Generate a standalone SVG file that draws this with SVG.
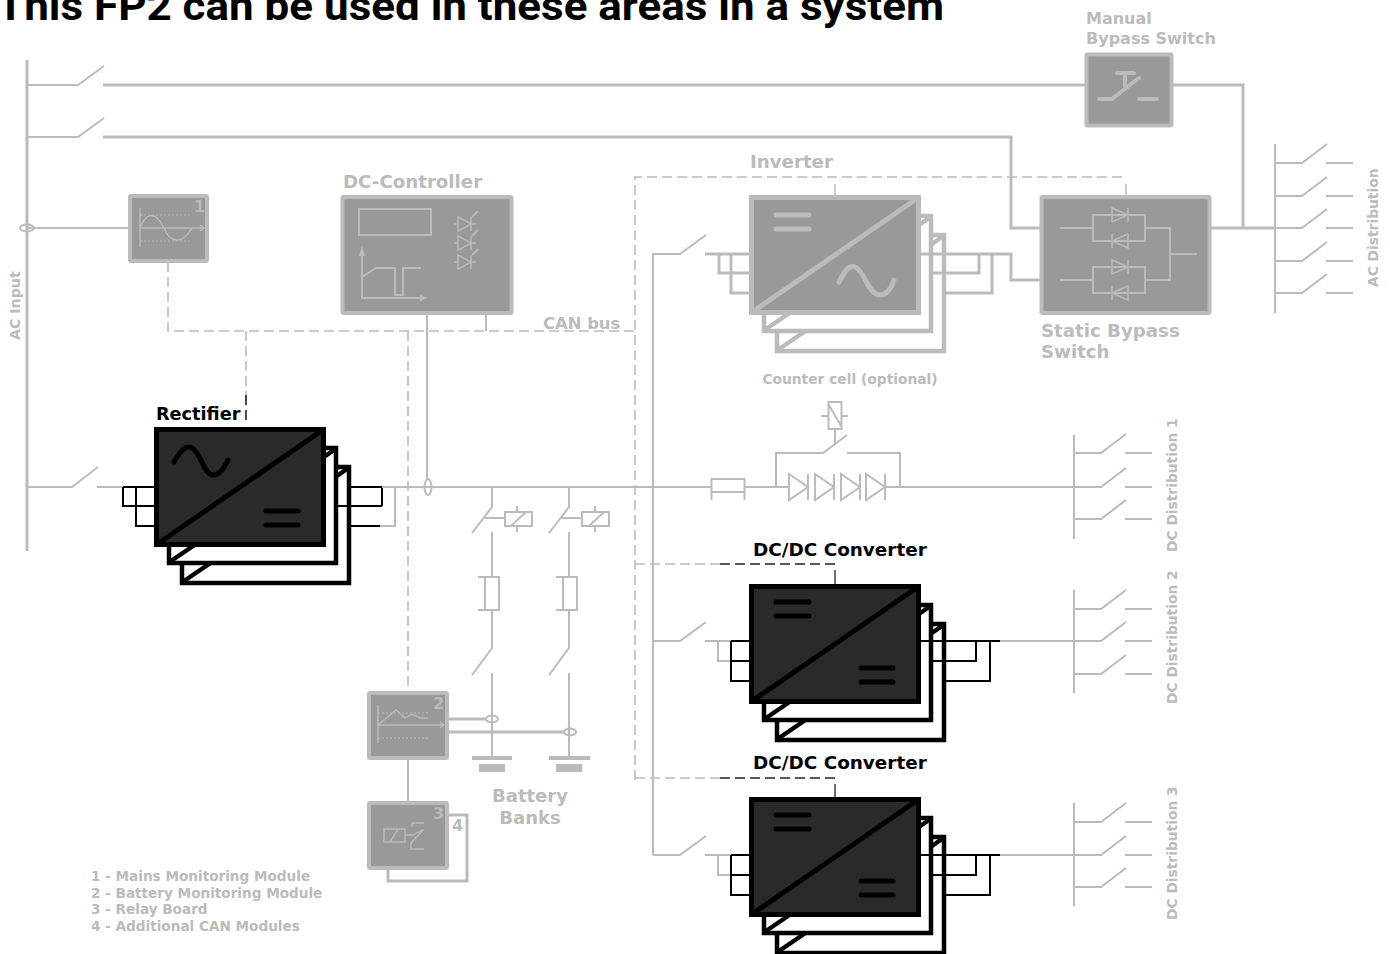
<svg xmlns="http://www.w3.org/2000/svg" width="1390" height="954" viewBox="0 0 1390 954">
<style>
text{font-family:"DejaVu Sans",sans-serif;font-weight:700;fill:#bbb}
.title{font-family:Roboto,"Liberation Sans",sans-serif;font-size:40px;fill:#000}
.blk{fill:#000;font-size:18.400px}
.lbl{font-size:18.200px}
.man{font-size:16px}
.leg{font-size:13.600px}
.vert{font-size:13.800px}
.dig{font-size:16px}
.l{fill:none;stroke:#bbb;stroke-width:2}
.t{fill:none;stroke:#bbb;stroke-width:3}
.b{fill:none;stroke:#000;stroke-width:2}
.d{fill:none;stroke:#bbb;stroke-width:1.6;stroke-dasharray:10 5}
.dk{fill:none;stroke:#222;stroke-width:1.6;stroke-dasharray:10 5}
.thin{fill:none;stroke:#bbb;stroke-width:1.4}
.dot{fill:none;stroke:#bbb;stroke-width:1.2;stroke-dasharray:2 2}
.mod{fill:#999;stroke:#bbb;stroke-width:4}
.cb{fill:#2a2a2a;stroke:#000}
.cg{fill:#999;stroke:#bbb}
</style>
<defs>
<g id="stack" stroke-width="4.500">
<rect x="28" y="40" width="167" height="116" fill="#fff"/><path d="M30 154L80 120" fill="none"/>
<path d="M193 42L180 51" fill="none"/>
<rect x="15" y="21" width="167" height="115" fill="#fff"/><path d="M17 134L67 100" fill="none"/>
<path d="M180 23L167 32" fill="none"/>
<rect x="2.500" y="2.500" width="167" height="115" stroke-width="5"/>
<path d="M2.500 117.500L169.500 2.500" fill="none" stroke-width="5"/>
</g>
<g id="eqA" fill="none" stroke-width="5" stroke-linecap="round"><path d="M27 20H60M27 34H60"/></g>
<g id="eqB" fill="none" stroke-width="5" stroke-linecap="round"><path d="M112 84H144M112 98H144"/></g>
<path id="acA" d="M20 35C27 22 33 18 38 21C47 26 50 48 59 48C65 48 70 42 74 33" fill="none" stroke-width="5" stroke-linecap="round"/>
<path id="acB" d="M90 87C97 74 100 70 106 72C116 76 119 100 131 100C137 100 142 94 145 85" fill="none" stroke-width="5" stroke-linecap="round"/>
<g id="sw" class="l"><path d="M0 0H27L52 -19M51 0H78"/></g>
<g id="led" class="thin"><path d="M-9 0H-5M9 0H13M-5 -7V7L8 0ZM8 -7V7"/><path d="M9 -7L15 -13" stroke-width="2"/></g>
<g id="thy" class="thin"><path d="M-8 -7L8 0L-8 7ZM8 -7V7M-8 -7V7"/></g>
<g id="thyr" class="thin"><path d="M8 -7L-8 0L8 7ZM-8 -7V7M8 -7V7"/></g>
<g id="diode" class="l"><path d="M0 -13L19 0L0 13ZM19 -13V13"/></g>
</defs>

<text class="title" x="-3" y="20" textLength="947" lengthAdjust="spacingAndGlyphs">This FP2 can be used in these areas in a system</text>

<g id="mains-module">
<rect class="mod" x="130" y="196" width="77" height="65" rx="1"/>
<path class="thin" d="M140 208V247M140 228H204M200 225L204 228L200 231"/>
<path class="dot" d="M140 215H192M140 241H192"/>
<path class="thin" d="M140 228C146 212 156 211 164 228C170 243 182 245 192 228"/>
<text class="dig" x="194" y="212">1</text>
</g>
<g id="dc-controller">
<rect class="mod" x="342.500" y="197" width="169" height="116" rx="1"/>
<rect class="l" x="359" y="209" width="72" height="26"/>
<use href="#led" x="463" y="224"/><use href="#led" x="463" y="243"/><use href="#led" x="463" y="262"/>
<path class="l" d="M362 250V298H424M362 277L376 268H395V295H403V268H421"/>
<path d="M362 246L359 256H365ZM428 298L420 295V301Z" fill="#bbb"/>
<text class="lbl" x="343" y="188">DC-Controller</text>
</g>
<g id="manual-bypass">
<rect class="mod" x="1086.500" y="54.500" width="85" height="71" rx="1"/>
<path d="M1117 73H1134M1125 73V86M1099 99H1112L1139 78M1139 99H1157" fill="none" stroke="#bbb" stroke-width="4" stroke-linecap="round"/>
<text class="man" x="1086" y="24">Manual</text>
<text class="man" x="1086" y="44">Bypass Switch</text>
</g>
<g id="inverter">
<use href="#stack" class="cg" x="749" y="195"/>
<use href="#eqA" x="749" y="195" stroke="#bbb"/>
<use href="#acB" x="749" y="195" stroke="#bbb"/>
<text class="lbl" x="750" y="168">Inverter</text>
</g>
<g id="static-bypass">
<rect class="mod" x="1041.500" y="197" width="168" height="116" rx="1"/>
<path class="l" d="M1060 228H1093M1093 215H1145V241H1093ZM1060 280H1093M1093 267H1145V293H1093ZM1145 228H1170V280H1145M1170 254H1197"/>
<use href="#thy" x="1120" y="215"/><use href="#thyr" x="1120" y="241"/>
<use href="#thy" x="1120" y="267"/><use href="#thyr" x="1120" y="293"/>
<text class="lbl" x="1041" y="337">Static Bypass</text>
<text class="lbl" x="1041" y="358">Switch</text>
</g>
<g id="rectifier">
<use href="#stack" class="cb" x="154" y="427"/>
<use href="#acA" x="154" y="427" stroke="#000"/>
<use href="#eqB" x="154" y="427" stroke="#000"/>
<text class="blk" x="156" y="420" style="font-size:17.700px">Rectifier</text>
</g>
<g id="dcdc-1">
<use href="#stack" class="cb" x="749" y="584"/>
<use href="#eqA" x="749" y="582" stroke="#000"/>
<use href="#eqB" x="749" y="584" stroke="#000"/>
<text class="blk" x="753" y="556">DC/DC Converter</text>
</g>
<g id="dcdc-2">
<use href="#stack" class="cb" x="749" y="797"/>
<use href="#eqA" x="749" y="795" stroke="#000"/>
<use href="#eqB" x="749" y="797" stroke="#000"/>
<text class="blk" x="753" y="769">DC/DC Converter</text>
</g>
<g id="battery-module">
<rect class="mod" x="369" y="693" width="78" height="65" rx="1"/>
<path class="thin" d="M378 705V743M378 725H444M440 722L444 725L440 728M378 725L396 710L405 718L412 714L420 718H428"/>
<path class="dot" d="M378 713H430M378 738H430"/>
<text class="dig" x="433" y="709">2</text>
</g>
<g id="relay-board">
<path class="t" d="M388 869V881H467V815H447"/>
<rect class="mod" x="369" y="803" width="78" height="65" rx="1"/>
<path class="thin" d="M384 829H405V842H384ZM390 842L398 829M405 835H413L424 829M412 823H424M424 829L411 843V849H424M412 823V827"/>
<text class="dig" x="433" y="819">3</text>
<text class="dig" x="452" y="831">4</text>
</g>
<g id="counter-cell">
<rect class="l" x="828.500" y="402" width="13" height="27"/>
<path class="l" d="M821 416H828M842 416H848M829 405L841 426M835 429V445M776 487V453H823L847 435M847 453H900V487"/>
<use href="#diode" x="789" y="487"/><use href="#diode" x="815" y="487"/><use href="#diode" x="841" y="487"/><use href="#diode" x="866" y="487"/>
<path class="l" d="M711.500 500V479H744.500V500M711.500 492H744.500"/>
<text x="850" y="384" text-anchor="middle" style="font-size:13.800px">Counter cell (optional)</text>
</g>
<g id="battery-banks">
<path class="l" d="M492 487V507L472 533M484 518H505M492 532V577M492 610V648L472 675M492 673V758"/>
<path class="l" d="M569 487V507L549 533M561 518H582M569 532V577M569 610V648L549 675M569 673V758"/>
<rect class="l" x="505" y="512" width="27" height="14"/><path class="l" d="M517 506V512M517 526V532M511 526L526 512"/>
<rect class="l" x="582" y="512" width="27" height="14"/><path class="l" d="M595 506V512M595 526V532M589 526L604 512"/>
<path class="l" d="M478 577H499V610H478M485 577V610"/>
<path class="l" d="M556 577H577V610H556M563 577V610"/>
<path d="M472 758H512M549 758H590" stroke="#bbb" stroke-width="4" fill="none"/>
<path d="M479 768H505M556 768H582" stroke="#bbb" stroke-width="8" fill="none"/>
<text x="530" y="802" text-anchor="middle" style="font-size:18px">Battery</text>
<text x="530" y="824" text-anchor="middle" style="font-size:18px">Banks</text>
</g>
<g id="ac-distribution">
<path class="l" d="M1275 144V313"/>
<use href="#sw" x="1275" y="163"/><use href="#sw" x="1275" y="196"/><use href="#sw" x="1275" y="228"/><use href="#sw" x="1275" y="261"/><use href="#sw" x="1275" y="293"/>
<text class="vert" transform="translate(1378 287) rotate(-90)">AC Distribution</text>
</g>
<g id="dc-distribution-1">
<path class="l" d="M1074 435V539"/>
<use href="#sw" x="1074" y="453"/><use href="#sw" x="1074" y="487"/><use href="#sw" x="1074" y="519"/>
<text class="vert" transform="translate(1177 552) rotate(-90)">DC Distribution 1</text>
</g>
<g id="dc-distribution-2">
<path class="l" d="M1074 590V693"/>
<use href="#sw" x="1074" y="609"/><use href="#sw" x="1074" y="641"/><use href="#sw" x="1074" y="674"/>
<text class="vert" transform="translate(1177 704) rotate(-90)">DC Distribution 2</text>
</g>
<g id="dc-distribution-3">
<path class="l" d="M1074 803V906"/>
<use href="#sw" x="1074" y="822"/><use href="#sw" x="1074" y="855"/><use href="#sw" x="1074" y="887"/>
<text class="vert" transform="translate(1177 920) rotate(-90)">DC Distribution 3</text>
</g>

<g id="connectors">
<path class="t" d="M27 60V551"/>
<path class="l" d="M27 85H78L104 66"/><path class="t" d="M103 85H1086"/>
<path class="l" d="M27 137H78L104 118"/><path class="t" d="M103 137H1011V228H1041"/>
<path class="t" d="M1172 85H1243V228M1210 228H1275"/>
<ellipse class="l" cx="27" cy="228" rx="7" ry="3.500"/>
<path class="l" d="M27 228H130"/>
<path class="l" d="M27 487H72L98 467M97 487H155"/>
<path class="l" d="M395 487H711M745 487H789M886 487H1074"/>
<path class="l" d="M427 315V479"/><ellipse class="l" cx="428" cy="487" rx="3.500" ry="8"/>
<path class="l" d="M486 315V331"/>
<path class="d" d="M168 262V331H635M408 331V692"/>
<path class="d" d="M246 331V400"/><path class="dk" d="M246 395V424"/>
<path class="d" d="M635 780V177H1126"/>
<path class="thin" d="M835 184V195M1126 184V195"/>
<path class="d" d="M635 564H720"/><path class="dk" d="M720 564H835"/><path class="thin" d="M835 570V584" style="stroke:#333"/>
<path class="d" d="M635 778H720"/><path class="dk" d="M720 778H835"/><path class="thin" d="M835 784V797" style="stroke:#333"/>
<path class="l" d="M408 759V803"/>
<path class="t" d="M448 719H486M448 732H564"/><ellipse class="l" cx="492" cy="719" rx="6" ry="3.500"/><ellipse class="l" cx="570" cy="732" rx="6" ry="3.500"/>
<path class="l" d="M653 855V254H680L706 235"/>
<path class="t" d="M705 254H749M719 254V273H749M731 254V293H749"/>
<path class="t" d="M920 254H1011V280H1041M933 273H979V254M946 293H992V254"/>
<path class="l" d="M653 641H680L706 622M705 641H731"/><path class="l" d="M653 855H680L706 836M705 855H731"/>
<path class="l" d="M1000 641H1074M1000 855H1074"/>
<path class="l" d="M718 641V661H731"/><path class="l" d="M718 855V875H731"/>
<path class="b" d="M731 641H749M731 641V681H749M731 661H749M920 641H1000M933 661H976V641M946 681H990V641"/>
<path class="b" d="M731 855H749M731 855V895H749M731 875H749M920 855H1000M933 875H976V855M946 895H990V855"/>
<path class="b" d="M123 487H155M136 487V526H155M123 487V506H155M351 487H382V506M338 506H382"/>
<path class="l" d="M351 526H395V487M382 487H395"/><path class="b" d="M351 526H380"/>
</g>

<text x="543" y="329" style="font-size:16.400px">CAN bus</text>
<text class="vert" transform="translate(20 340) rotate(-90)" style="font-size:14.200px">AC Input</text>
<g id="legend">
<text class="leg" x="91" y="881">1 - Mains Monitoring Module</text>
<text class="leg" x="91" y="898">2 - Battery Monitoring Module</text>
<text class="leg" x="91" y="914">3 - Relay Board</text>
<text class="leg" x="91" y="931">4 - Additional CAN Modules</text>
</g>
</svg>
